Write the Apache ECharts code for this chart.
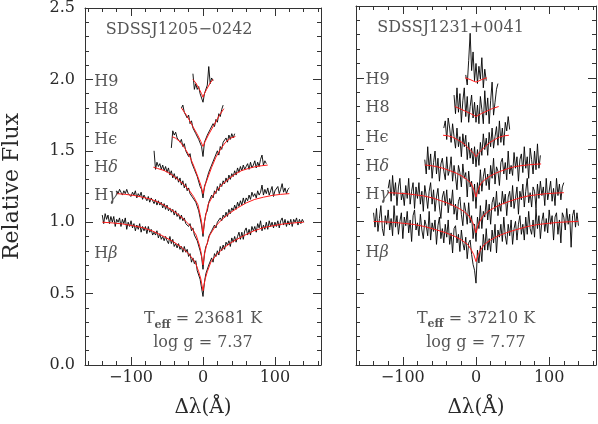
<!DOCTYPE html>
<html><head><meta charset="utf-8">
<script src="https://cdn.jsdelivr.net/npm/echarts@6/dist/echarts.min.js"></script>
<style>html,body{margin:0;padding:0;background:#fff}#c{width:598px;height:424px}</style>
</head><body><div id="c"></div>
<script>
// ---------- wavelength grid (Å) ----------
const wave2 = [-140,-138,-136,-134,-132,-130,-128,-126,-124,-122,-120,-118,-116,-114,-112,-110,-108,-106,-104,-102,-100,-98,-96,-94,-92,-90,-88,-86,-84,-82,-80,-78,-76,-74,-72,-70,-68,-66,-64,-62,-60,-58,-56,-54,-52,-50,-48,-46,-44,-42,-40,-38,-36,-34,-32,-30,-28,-26,-24,-22,-20,-18,-16,-14,-12,-10,-8,-6,-4,-2,0,2,4,6,8,10,12,14,16,18,20,22,24,26,28,30,32,34,36,38,40,42,44,46,48,50,52,54,56,58,60,62,64,66,68,70,72,74,76,78,80,82,84,86,88,90,92,94,96,98,100,102,104,106,108,110,112,114,116,118,120,122,124,126,128,130,132,134,136,138,140];

// ---------- SDSSJ1205-0242 observed (offset) fluxes ----------
const fluxHbL = [1.05,.99,1.06,1.02,1.05,.99,1.04,1.00,1.04,.97,1.02,1.00,1.03,.97,1.02,.99,1.03,.95,1.00,.97,1.01,.96,.99,.94,.98,.95,.99,.93,.97,.94,.97,.92,.97,.93,.95,.91,.93,.91,.94,.89,.92,.88,.90,.87,.90,.87,.85,.90,.85,.88,.83,.85,.82,.85,.81,.83,.79,.83,.79,.81,.76,.78,.72,.75,.71,.73,.66,.66,.60,.59,.48,.58,.64,.63,.70,.70,.75,.72,.78,.76,.80,.77,.83,.80,.84,.81,.86,.84,.87,.83,.89,.86,.90,.86,.90,.93,.88,.93,.88,.94,.96,.91,.95,.91,.97,.94,.97,.93,.99,.96,1.01,.94,.98,.95,1.00,.95,1.01,.97,1.00,.96,1.00,.97,1.01,.96,1.01,1.03,.98,1.02,.97,1.01,.98,1.02,.97,1.02,1.00,1.03,.98,1.02,.99,1.02,1.00];
const fluxHgL = [1.22,1.20,1.23,1.21,1.19,1.22,1.20,1.23,1.20,1.21,1.18,1.21,1.19,1.22,1.17,1.20,1.18,1.21,1.16,1.19,1.17,1.15,1.18,1.14,1.17,1.15,1.13,1.16,1.12,1.15,1.12,1.14,1.10,1.13,1.09,1.12,1.08,1.10,1.07,1.09,1.05,1.08,1.04,1.06,1.02,1.05,1.01,1.03,.99,1.00,.97,.99,.94,.96,.91,.92,.87,.86,.80,.76,.67,.78,.83,.85,.90,.90,.94,.93,.98,.96,1.00,.99,1.03,1.01,1.05,1.03,1.07,1.04,1.09,1.06,1.10,1.08,1.12,1.09,1.14,1.11,1.15,1.12,1.17,1.13,1.17,1.15,1.19,1.16,1.21,1.18,1.20,1.17,1.22,1.19,1.21,1.26,1.19,1.23,1.20,1.24,1.19,1.22,1.25,1.18,1.22,1.21,1.25,1.20,1.23,1.27,1.21,1.24,1.20,1.23,1.24];
const fluxHdL = [1.50,1.37,1.42,1.39,1.41,1.37,1.40,1.36,1.39,1.35,1.38,1.33,1.36,1.31,1.34,1.30,1.32,1.28,1.31,1.26,1.29,1.24,1.27,1.22,1.24,1.20,1.21,1.17,1.18,1.14,1.11,1.08,1.03,.98,.90,1.00,1.06,1.08,1.14,1.13,1.19,1.17,1.22,1.20,1.25,1.22,1.27,1.25,1.29,1.27,1.31,1.28,1.33,1.30,1.34,1.32,1.36,1.33,1.38,1.35,1.39,1.36,1.40,1.37,1.39,1.41,1.37,1.42,1.38,1.40,1.43,1.38,1.42,1.39,1.44,1.47,1.40,1.43,1.41];
const fluxHeL = [1.52,1.64,1.61,1.63,1.59,1.60,1.56,1.58,1.53,1.55,1.50,1.51,1.46,1.48,1.42,1.43,1.37,1.38,1.32,1.31,1.25,1.23,1.17,1.25,1.28,1.29,1.35,1.34,1.40,1.39,1.45,1.44,1.50,1.47,1.53,1.51,1.56,1.55,1.59,1.56,1.61,1.58,1.62,1.59,1.62];
const fluxH8L = [1.80,1.82,1.77,1.78,1.73,1.75,1.69,1.71,1.66,1.67,1.62,1.63,1.58,1.59,1.53,1.46,1.56,1.56,1.61,1.60,1.65,1.64,1.69,1.67,1.72,1.70,1.76,1.74,1.79,1.82];
const fluxH9L = [2.04,1.93,1.97,1.93,1.95,1.90,1.89,1.84,1.90,1.91,1.96,2.09,1.97,2.01,1.99];

// ---------- SDSSJ1231+0041 observed (offset) fluxes ----------
const fluxHbR = [1.06,.96,1.09,.93,1.02,1.11,.95,.90,1.04,.98,1.08,.94,1.02,.90,1.11,.96,1.04,.91,1.00,1.06,.88,1.03,.97,1.07,.92,1.01,.86,1.04,1.08,.94,.99,.90,1.05,.94,.88,1.01,.97,.90,1.07,.87,.99,.93,1.01,.84,.97,1.03,.88,.95,.85,.98,.89,1.01,.84,.92,.78,.95,.97,.85,.91,.79,.94,.85,.80,.89,.74,.85,.87,.77,.70,.66,.57,.80,.71,.83,.72,.91,.80,.95,.80,.88,.79,.94,.85,.98,.78,.94,.89,.98,.86,1.03,.90,.84,.98,.90,1.01,.84,.95,1.00,.87,.98,1.04,.91,.98,.87,1.03,.91,1.07,.95,.91,1.01,.89,1.09,.95,1.04,.88,1.00,1.06,.93,1.02,.92,1.08,.98,1.04,.87,1.03,1.06,.91,1.01,.85,1.06,1.03,.94,1.09,.98,1.05,.82,1.04,1.08,.96,1.06,.97];
const fluxHgR = [1.23,1.29,1.14,1.32,1.18,1.27,1.11,1.24,1.30,1.15,1.20,1.11,1.25,1.16,1.30,1.12,1.21,1.27,1.09,1.24,1.16,1.27,1.12,1.21,1.07,1.25,1.18,1.09,1.21,1.27,1.12,1.22,1.07,1.17,1.23,1.10,1.02,1.17,1.21,1.11,1.22,1.06,1.16,1.11,1.22,1.05,1.12,1.01,1.14,1.17,1.05,.97,1.13,1.07,.98,1.13,.99,1.04,.88,.98,.86,1.03,.95,1.11,.95,1.07,1.03,1.15,1.01,1.12,.98,1.13,1.17,1.07,1.21,1.04,1.13,1.07,1.21,1.12,1.19,1.04,1.17,1.21,1.10,1.25,1.09,1.16,1.24,1.05,1.21,1.15,1.26,1.10,1.21,1.30,1.13,1.20,1.10,1.24,1.21,1.09,1.26,1.16,1.28,1.18,1.24,1.11,1.30,1.15,1.21,1.28,1.14,1.23,1.11,1.30,1.18,1.26,1.15,1.24,1.27];
const fluxHdR = [1.43,1.33,1.52,1.36,1.47,1.30,1.41,1.49,1.33,1.44,1.28,1.40,1.44,1.35,1.29,1.45,1.32,1.36,1.45,1.28,1.39,1.31,1.22,1.39,1.34,1.24,1.40,1.30,1.34,1.17,1.35,1.24,1.28,1.14,1.26,1.09,1.27,1.19,1.36,1.21,1.31,1.37,1.25,1.33,1.22,1.39,1.30,1.44,1.26,1.38,1.35,1.25,1.41,1.44,1.33,1.41,1.29,1.49,1.33,1.39,1.32,1.48,1.37,1.45,1.28,1.43,1.47,1.34,1.52,1.37,1.45,1.30,1.51,1.43,1.33,1.49,1.36,1.54,1.37,1.46];
const fluxHeR = [1.65,1.70,1.57,1.72,1.65,1.55,1.68,1.59,1.51,1.65,1.52,1.59,1.45,1.61,1.52,1.60,1.43,1.55,1.44,1.51,1.40,1.52,1.38,1.50,1.39,1.55,1.46,1.61,1.50,1.58,1.46,1.62,1.52,1.65,1.51,1.59,1.66,1.53,1.70,1.55,1.65,1.53,1.69,1.63,1.73,1.64];
const fluxH8R = [1.88,1.75,1.93,1.76,1.89,1.69,1.84,1.93,1.73,1.87,1.69,1.80,1.88,1.72,1.83,1.69,1.81,1.68,1.87,1.78,1.68,1.91,1.74,1.86,1.68,1.84,1.97,1.74,1.83,1.92,1.96];
const fluxH9R = [2.02,1.95,2.12,2.31,2.05,2.18,1.98,2.10,1.96,2.08,1.99,2.14,1.93,2.06,1.98];

// ---------- model fits [Δλ, flux] ----------
const modelHbL = [[-140,1.0],[-126,.995],[-112,.988],[-98,.976],[-84,.962],[-70,.938],[-56,.904],[-42,.866],[-30,.825],[-20,.779],[-11,.722],[-6,.654],[-3,.602],[0,.52],[3,.602],[6,.654],[11,.722],[20,.779],[30,.825],[42,.866],[56,.904],[70,.938],[84,.962],[98,.976],[112,.988],[126,.995],[140,1.0]];
const modelHgL = [[-120,1.2],[-108,1.195],[-96,1.1875],[-84,1.175],[-72,1.16],[-60,1.135],[-48,1.10],[-36,1.06],[-26,1.0175],[-17,.97],[-9.5,.91],[-5,.84],[-2.5,.785],[0,.70],[2.5,.785],[5,.84],[9.5,.91],[17,.97],[26,1.0175],[36,1.06],[48,1.10],[60,1.135],[72,1.16],[84,1.175],[96,1.1875],[108,1.195],[120,1.2]];
const modelHdL = [[-69,1.385],[-63,1.376],[-54,1.362],[-45,1.338],[-36,1.304],[-27,1.266],[-19,1.222],[-13,1.179],[-7,1.122],[-4,1.054],[-2,1.002],[0,.92],[2,1.002],[4,1.054],[7,1.122],[13,1.179],[19,1.222],[27,1.266],[36,1.304],[45,1.338],[54,1.362],[63,1.376],[72,1.388],[81,1.395],[90,1.4]];
const modelHeL = [[-43,1.599],[-38,1.588],[-32,1.564],[-25,1.516],[-18,1.456],[-12,1.384],[-7,1.316],[-3,1.26],[0,1.2],[3,1.26],[7,1.316],[12,1.384],[18,1.456],[25,1.516],[32,1.564],[38,1.588],[45,1.6]];
const modelH8L = [[-30,1.8],[-22.5,1.746],[-15,1.678],[-7.5,1.611],[-3,1.565],[0,1.53],[3,1.565],[7.5,1.611],[15,1.678],[22.5,1.746],[29,1.795]];
const modelH9L = [[-14,2.0],[-10,1.975],[-5,1.93],[-2,1.9],[0,1.875],[2,1.9],[5,1.93],[10,1.975],[14,2.0]];

const modelHbR = [[-140,1.0],[-126,.997],[-112,.993],[-98,.986],[-84,.978],[-70,.964],[-56,.944],[-42,.922],[-30,.898],[-20,.871],[-11,.838],[-6,.798],[-3,.768],[0,.72],[3,.768],[6,.798],[11,.838],[20,.871],[30,.898],[42,.922],[56,.944],[70,.964],[84,.978],[98,.986],[112,.993],[126,.997],[140,1.0]];
const modelHgR = [[-120,1.2],[-108,1.197],[-96,1.193],[-84,1.186],[-72,1.178],[-60,1.164],[-48,1.144],[-36,1.122],[-26,1.098],[-17,1.071],[-9.5,1.038],[-5,.998],[-2.5,.968],[0,.92],[2.5,.968],[5,.998],[9.5,1.038],[17,1.071],[26,1.098],[36,1.122],[48,1.144],[60,1.164],[72,1.178],[84,1.186],[96,1.193],[108,1.197],[120,1.2]];
const modelHdR = [[-70,1.393],[-63,1.389],[-54,1.382],[-45,1.370],[-36,1.354],[-27,1.336],[-19,1.315],[-13,1.294],[-7,1.267],[-4,1.234],[-2,1.209],[0,1.17],[2,1.209],[4,1.234],[7,1.267],[13,1.294],[19,1.315],[27,1.336],[36,1.354],[45,1.370],[54,1.382],[63,1.389],[72,1.394],[81,1.398],[89,1.4]];
const modelHeR = [[-45,1.6],[-38,1.5955],[-32,1.5865],[-25,1.5685],[-18,1.546],[-12,1.519],[-7,1.4935],[-3,1.4725],[0,1.45],[3,1.4725],[7,1.4935],[12,1.519],[18,1.546],[25,1.5685],[32,1.5865],[38,1.5955],[45,1.6]];
const modelH8R = [[-29,1.8],[-22.5,1.786],[-15,1.7685],[-7.5,1.751],[-3,1.739],[0,1.73],[3,1.739],[7.5,1.751],[15,1.7685],[22.5,1.786],[31,1.8]];
const modelH9R = [[-15,2.0],[-8,1.988],[-3,1.976],[0,1.97],[3,1.976],[8,1.988],[15,2.0]];

// ---------- texts / ticks ----------
const starNames = ['SDSSJ1205\u22120242', 'SDSSJ1231+0041'];
const teffValues = ['23681', '37210'];
const loggValues = ['7.37', '7.77'];
const lineNames = ['H9', 'H8', 'H\u03f5', 'H\u03b4', 'H\u03b3', 'H\u03b2'];
const lineLevels = [1.985, 1.79, 1.58, 1.379, 1.184, 0.78];
const xMajor = [-100, 0, 100];
const xMinor = [-160,-140,-120,-80,-60,-40,-20,20,40,60,80,120,140,160];

function spectrum(grid, start, flux) {
  const i0 = grid.indexOf(start);
  return flux.map((f, i) => [grid[i0 + i], f]);
}

const panels = [
  { obs: [spectrum(wave2,-140,fluxHbL), spectrum(wave2,-120,fluxHgL), spectrum(wave2,-68,fluxHdL),
          spectrum(wave2,-44,fluxHeL), spectrum(wave2,-30,fluxH8L), spectrum(wave2,-14,fluxH9L)],
    mod: [modelHbL, modelHgL, modelHdL, modelHeL, modelH8L, modelH9L] },
  { obs: [spectrum(wave2,-140,fluxHbR), spectrum(wave2,-120,fluxHgR), spectrum(wave2,-70,fluxHdR),
          spectrum(wave2,-44,fluxHeR), spectrum(wave2,-30,fluxH8R), spectrum(wave2,-14,fluxH9R)],
    mod: [modelHbR, modelHgR, modelHdR, modelHeR, modelH8R, modelH9R] }
];

const FONT = 'DejaVu Serif';
const TXT = '#2a2a2a';
const AX = '#333';
const minus = v => (v < 0 ? '\u2212' + (-v) : String(v));

const grids = [
  { left: 82, top: 6, width: 239, height: 359 },
  { left: 356, top: 6, width: 240, height: 359 }
];
const xAxis = [], yAxis = [], series = [];

grids.forEach((g, gi) => {
  const base = { gridIndex: gi, type: 'value', min: -164, max: 164, splitLine: { show: false } };
  xAxis.push(Object.assign({}, base, {
    position: 'bottom',
    axisLine: { show: true, onZero: false, lineStyle: { color: AX, width: 1 } },
    axisTick: { show: true, inside: true, length: 8, customValues: xMajor, lineStyle: { color: AX, width: 1 } },
    axisLabel: { show: true, customValues: xMajor, formatter: minus, fontFamily: FONT, fontSize: 16, color: TXT, margin: 5 },
    name: '\u0394\u03bb(\u00c5)', nameLocation: 'middle', nameGap: 33,
    nameTextStyle: { fontFamily: FONT, fontSize: 20, color: TXT }
  }));
  xAxis.push(Object.assign({}, base, {
    position: 'bottom', axisLine: { show: false, onZero: false },
    axisTick: { show: true, inside: true, length: 4, customValues: xMinor, lineStyle: { color: AX, width: 1 } },
    axisLabel: { show: false }
  }));
  xAxis.push(Object.assign({}, base, {
    position: 'top', axisLine: { show: true, onZero: false, lineStyle: { color: AX, width: 1 } },
    axisTick: { show: true, inside: true, length: 8, customValues: xMajor, lineStyle: { color: AX, width: 1 } },
    axisLabel: { show: false }
  }));
  xAxis.push(Object.assign({}, base, {
    position: 'top', axisLine: { show: false, onZero: false },
    axisTick: { show: true, inside: true, length: 4, customValues: xMinor, lineStyle: { color: AX, width: 1 } },
    axisLabel: { show: false }
  }));
  ['left', 'right'].forEach((pos) => {
    const showLab = gi === 0 && pos === 'left';
    yAxis.push({
      gridIndex: gi, type: 'value', position: pos, min: 0, max: 2.5, interval: 0.5,
      axisLine: { show: true, onZero: false, lineStyle: { color: AX, width: 1 } },
      axisTick: { show: true, inside: true, length: 8, lineStyle: { color: AX, width: 1 } },
      minorTick: { show: true, splitNumber: 5, length: 4, lineStyle: { color: AX, width: 1 } },
      splitLine: { show: false }, minorSplitLine: { show: false },
      axisLabel: { show: showLab, formatter: v => v.toFixed(1), fontFamily: FONT, fontSize: 16, color: TXT, margin: 10 },
      name: showLab ? 'Relative Flux' : '', nameLocation: 'middle', nameGap: 62,
      nameTextStyle: { fontFamily: FONT, fontSize: 22, color: TXT }
    });
  });

  const xi = gi * 4, yi = gi * 2;
  panels[gi].obs.forEach((d) => series.push({
    type: 'line', xAxisIndex: xi, yAxisIndex: yi, data: d, showSymbol: false, silent: true,
    lineStyle: { color: '#000', width: 0.9 }, z: 2
  }));
  panels[gi].mod.forEach((d) => series.push({
    type: 'line', xAxisIndex: xi, yAxisIndex: yi, data: d, showSymbol: false, silent: true,
    lineStyle: { color: '#ff1a1a', width: 1 }, z: 3
  }));

  const leftTexts = [[-135, 2.345, 'title']].concat(lineNames.map((n, k) => [-151, lineLevels[k], n]));
  series.push({
    type: 'scatter', xAxisIndex: xi, yAxisIndex: yi, symbolSize: 0, silent: true, z: 5,
    data: leftTexts,
    label: {
      show: true, position: 'inside', align: 'left', verticalAlign: 'middle',
      fontFamily: FONT, fontSize: 16, color: TXT,
      formatter: (p) => {
        const t = p.data[2];
        if (t === 'title') return '{n|' + starNames[gi] + '}';
        if (/[\u03b2\u03b3\u03b4]/.test(t)) return '{n|H}{g|' + t.slice(1) + '}';
        return '{n|' + t + '}';
      },
      rich: {
        n: { fontFamily: FONT, fontSize: 16, color: TXT },
        g: { fontFamily: FONT, fontSize: 16, color: TXT, fontStyle: 'italic' }
      }
    }
  });
  series.push({
    type: 'scatter', xAxisIndex: xi, yAxisIndex: yi, symbolSize: 0, silent: true, z: 5,
    data: [[0, 0.32, 'teff'], [0, 0.153, 'logg']],
    label: {
      show: true, position: 'inside', align: 'center', verticalAlign: 'middle',
      fontFamily: FONT, fontSize: 16, color: TXT,
      formatter: (p) => p.data[2] === 'teff'
        ? '{a|T}{s|eff}{a| = ' + teffValues[gi] + ' K}'
        : '{a|log g = ' + loggValues[gi] + '}',
      rich: {
        a: { fontFamily: FONT, fontSize: 16, color: TXT, lineHeight: 22 },
        s: { fontFamily: FONT, fontSize: 11, fontWeight: 'bold', color: TXT, lineHeight: 11, verticalAlign: 'bottom' }
      }
    }
  });
});

const chart = echarts.init(document.getElementById('c'), null, { renderer: 'canvas', devicePixelRatio: 1 });
chart.setOption({
  animation: false,
  backgroundColor: '#fff',
  grid: grids,
  xAxis: xAxis,
  yAxis: yAxis,
  series: series
});
</script>
</body></html>
